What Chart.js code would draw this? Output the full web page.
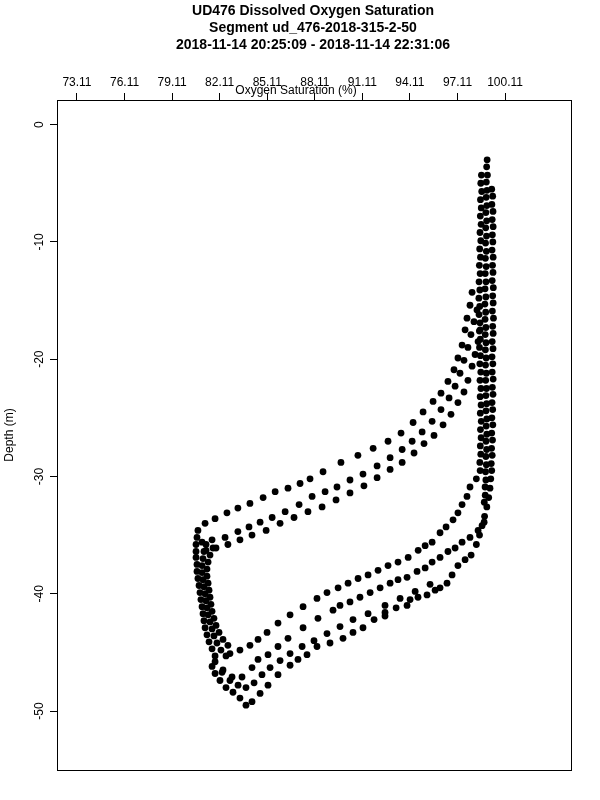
<!DOCTYPE html>
<html>
<head>
<meta charset="utf-8">
<script src="https://cdn.jsdelivr.net/npm/chart.js@4.4.1/dist/chart.umd.min.js"></script>
<style>
  html, body { margin: 0; padding: 0; background: #fff; }
  canvas { display: block; }
</style>
</head>
<body>
<canvas id="perfil" width="600" height="800"></canvas>
<script>
const titleLines = [
  'UD476 Dissolved Oxygen Saturation',
  'Segment ud_476-2018-315-2-50',
  '2018-11-14 20:25:09 - 2018-11-14 22:31:06'
];
const xTitle = 'Oxygen Saturation (%)';
const yTitle = 'Depth (m)';
const xTicks = [73.11, 76.11, 79.11, 82.11, 85.11, 88.11, 91.11, 94.11, 97.11, 100.11];
const yTicks = [0, -10, -20, -30, -40, -50];
const xMin = 71.85, xMax = 104.27;
const yMin = -55.03, yMax = 2.1;

// right band (well mixed layer), three columns
const bandOuterO2 = [99.27,99.33,99.28,99.35,99.30,99.36,99.31,99.34,99.29,99.36,99.32,99.35,99.30,99.37,99.33,99.36,99.31,99.38,99.33,99.36,99.30,99.35,99.29,99.34,99.30,99.36,99.31,99.35,99.29,99.33,99.28,99.34,99.27,99.32,99.26,99.30,99.24,99.27,99.21,99.16,99.08,98.96,98.82,98.66,98.50,98.30];
const bandOuterDepth = [-5.5,-6.1,-6.8,-7.4,-8.1,-8.7,-9.4,-10.0,-10.7,-11.3,-12.0,-12.6,-13.3,-13.9,-14.6,-15.2,-15.9,-16.5,-17.2,-17.8,-18.5,-19.1,-19.8,-20.4,-21.1,-21.7,-22.4,-23.0,-23.7,-24.3,-25.0,-25.6,-26.3,-26.9,-27.6,-28.2,-28.9,-29.5,-30.2,-31.0,-31.8,-32.6,-33.4,-34.2,-35.0,-35.8];
const bandMidO2 = [98.98,98.95,99.00,98.93,98.97,98.92,98.96,98.90,98.95,98.89,98.94,98.88,98.93,98.87,98.92,98.86,98.91,98.85,98.90,98.84,98.89,98.85,98.90,98.86,98.91,98.87,98.92,98.88,98.93,98.89,98.94,98.90,98.95,98.91,98.96,98.92,98.96,98.91,98.95,98.90,98.93,98.88,98.90,98.85,98.86,98.80];
const bandMidDepth = [-3.0,-3.6,-4.3,-4.9,-5.6,-6.2,-6.9,-7.5,-8.2,-8.8,-9.5,-10.1,-10.8,-11.4,-12.1,-12.7,-13.4,-14.0,-14.7,-15.3,-16.0,-16.6,-17.3,-17.9,-18.6,-19.2,-19.9,-20.5,-21.2,-21.8,-22.5,-23.1,-23.8,-24.4,-25.1,-25.7,-26.4,-27.0,-27.7,-28.3,-29.0,-29.6,-30.3,-30.9,-31.6,-32.2];
const bandInnerO2 = [98.62,98.58,98.64,98.56,98.61,98.55,98.60,98.53,98.58,98.51,98.56,98.49,98.54,98.47,98.52,98.46,98.51,98.47,98.53,98.49,98.55,98.50,98.56,98.52,98.58,98.53,98.59,98.54,98.60,98.55,98.61,98.56,98.60,98.55,98.58,98.52,98.54,98.30];
const bandInnerDepth = [-4.3,-5.0,-5.7,-6.4,-7.1,-7.8,-8.5,-9.2,-9.9,-10.6,-11.3,-12.0,-12.7,-13.4,-14.1,-14.8,-15.5,-16.2,-16.9,-17.6,-18.3,-19.0,-19.7,-20.4,-21.1,-21.8,-22.5,-23.2,-23.9,-24.6,-25.3,-26.0,-26.7,-27.4,-28.1,-28.8,-29.5,-30.2];

// upper branch (rising casts)
const riseUpperO2 = [98.03,97.90,97.71,97.59,97.40,97.14,96.89,96.51,96.07,95.57,94.94,94.31,93.55,92.73,91.79,90.83,89.76,88.63,87.81,87.18,86.42,85.61,84.85,84.02,83.26,82.57,81.82,81.19,80.74];
const riseUpperDepth = [-14.3,-15.4,-16.5,-17.5,-18.8,-19.9,-20.9,-21.9,-22.9,-23.6,-24.5,-25.4,-26.3,-27.0,-27.6,-28.2,-28.8,-29.6,-30.2,-30.6,-31.0,-31.3,-31.8,-32.3,-32.7,-33.1,-33.6,-34.0,-34.6];
const riseMidO2 = [98.34,98.15,97.96,97.77,97.52,97.27,96.96,96.58,96.07,95.51,94.88,94.25,93.62,92.86,92.04,91.15,90.33,89.51,88.76,87.94,87.12,86.24,85.42,84.66,83.96,83.26,82.45,81.63,81.00];
const riseMidDepth = [-15.8,-16.8,-17.9,-19.0,-20.1,-21.2,-22.3,-23.3,-24.3,-25.3,-26.2,-27.0,-27.7,-28.4,-29.1,-29.8,-30.3,-30.9,-31.3,-31.7,-32.4,-33.0,-33.5,-33.9,-34.3,-34.7,-35.2,-35.4,-35.6];
const riseLowerO2 = [98.54,98.41,98.22,98.03,97.77,97.52,97.14,96.70,96.20,95.63,95.00,94.37,93.62,92.86,92.04,91.21,90.33,89.45,88.57,87.68,86.80,85.92,85.04,84.15,83.39,82.63,81.88,81.25];
const riseLowerDepth = [-17.5,-18.5,-19.6,-20.6,-21.8,-22.8,-23.7,-24.7,-25.6,-26.5,-27.2,-28.0,-28.8,-29.4,-30.1,-30.8,-31.4,-32.0,-32.6,-33.0,-33.5,-34.0,-34.6,-35.0,-35.4,-35.8,-36.1,-36.3];

// left band (minimum)
const leftEdgeO2 = [80.68,80.62,80.62,80.62,80.68,80.68,80.74,80.81,80.87,80.93,81.00,81.06,81.12,81.19,81.31,81.44,81.63,81.82];
const leftEdgeDepth = [-35.2,-35.8,-36.4,-36.9,-37.5,-38.1,-38.7,-39.3,-39.9,-40.5,-41.1,-41.7,-42.3,-42.9,-43.5,-44.1,-44.7,-45.3];
const leftMidO2 = [81.25,81.12,81.06,81.00,81.00,81.06,81.12,81.19,81.25,81.31,81.38,81.50,81.63,81.75,81.94,82.19,82.51];
const leftMidDepth = [-35.8,-36.4,-37.0,-37.6,-38.2,-38.8,-39.4,-40.0,-40.6,-41.2,-41.8,-42.4,-43.0,-43.6,-44.2,-44.8,-45.3];
const leftInnerO2 = [81.69,81.50,81.38,81.31,81.31,81.38,81.44,81.50,81.56,81.63,81.75,81.88,82.07,82.32,82.63];
const leftInnerDepth = [-36.1,-36.7,-37.3,-37.9,-38.5,-39.1,-39.7,-40.3,-40.9,-41.5,-42.1,-42.7,-43.3,-43.9,-44.4];

// lower branch (descending casts)
const dropTopO2 = [97.90,97.71,97.40,97.14,96.83,96.39,96.01,95.51,95.07,94.63,94.00,93.36,92.73,92.10,91.47,90.84,90.21,89.58,88.88,88.25,87.37,86.55,85.79,85.10,84.53,84.02,83.39,82.76];
const dropTopDepth = [-30.9,-31.7,-32.4,-33.1,-33.7,-34.3,-34.8,-35.6,-35.9,-36.3,-36.9,-37.3,-37.6,-38.0,-38.4,-38.7,-39.1,-39.5,-39.9,-40.4,-41.1,-41.8,-42.5,-43.3,-43.9,-44.4,-44.8,-45.1];
const dropSecondO2 = [98.79,98.41,97.90,97.40,96.96,96.51,96.01,95.51,95.07,94.56,93.93,93.36,92.86,92.23,91.60,90.96,90.33,89.70,89.26,88.31,87.37,86.42,85.79,85.16,84.53,84.15,83.52,82.89,82.32,81.82];
const dropSecondDepth = [-33.9,-34.6,-35.2,-35.6,-36.1,-36.4,-36.9,-37.3,-37.8,-38.1,-38.6,-38.8,-39.1,-39.5,-39.9,-40.3,-40.7,-41.0,-41.4,-42.1,-42.9,-43.8,-44.5,-45.2,-45.6,-46.3,-47.1,-47.1,-46.5,-45.8];
const dropThirdO2 = [95.38,94.44,93.49,92.54,91.47,90.52,89.70,88.88,88.06,87.31,86.55,85.92,85.29,84.78,84.28,83.77,83.27,82.76,82.26];
const dropThirdDepth = [-39.2,-39.8,-40.4,-41.0,-41.7,-42.2,-42.8,-43.4,-44.0,-44.5,-45.1,-45.7,-46.3,-46.9,-47.6,-48.0,-47.8,-47.4,-46.7];
const dropBottomO2 = [97.97,97.59,97.14,96.77,96.45,96.01,95.70,95.19,94.62,94.12,93.93,93.24,92.54,92.54,91.85,91.15,90.52,89.89,89.07,88.25,87.62,87.05,86.55,85.79,85.16,84.66,84.15,83.77,83.39,82.95,82.51,82.13,81.82,81.63];
const dropBottomDepth = [-36.7,-37.1,-37.6,-38.4,-39.1,-39.5,-39.7,-40.1,-40.3,-40.5,-41.0,-41.2,-41.6,-41.9,-42.2,-42.9,-43.3,-43.8,-44.2,-44.5,-45.2,-45.6,-46.1,-46.9,-47.8,-48.5,-49.2,-49.5,-48.9,-48.4,-48.0,-47.4,-46.8,-46.2];

const tracks = [
  [bandOuterO2, bandOuterDepth], [bandMidO2, bandMidDepth], [bandInnerO2, bandInnerDepth],
  [riseUpperO2, riseUpperDepth], [riseMidO2, riseMidDepth], [riseLowerO2, riseLowerDepth],
  [leftEdgeO2, leftEdgeDepth], [leftMidO2, leftMidDepth], [leftInnerO2, leftInnerDepth],
  [dropTopO2, dropTopDepth], [dropSecondO2, dropSecondDepth], [dropThirdO2, dropThirdDepth],
  [dropBottomO2, dropBottomDepth]
];

const FONT = '"Liberation Sans", Arial, Helvetica, sans-serif';

// R-like frame, titles and rotated y labels
const rFrame = {
  id: 'rFrame',
  afterDraw(chart) {
    const { ctx, chartArea: a, scales } = chart;
    ctx.save();
    ctx.strokeStyle = '#000';
    ctx.lineWidth = 1;
    ctx.strokeRect(a.left + 0.5, a.top + 0.5, a.width, a.height);
    ctx.fillStyle = '#000';
    ctx.textAlign = 'center';
    ctx.textBaseline = 'middle';
    ctx.font = 'bold 14px ' + FONT;
    titleLines.forEach((t, i) => ctx.fillText(t, 313, 11 + i * 17));
    ctx.font = '12px ' + FONT;
    ctx.fillText(xTitle, 296, 91);
    scales.y.ticks.forEach(t => {
      const py = scales.y.getPixelForValue(t.value);
      ctx.save();
      ctx.translate(40, py);
      ctx.rotate(-Math.PI / 2);
      ctx.fillText(String(t.value), 0, 0);
      ctx.restore();
    });
    ctx.save();
    ctx.translate(10, (a.top + a.bottom) / 2);
    ctx.rotate(-Math.PI / 2);
    ctx.fillText(yTitle, 0, 0);
    ctx.restore();
    ctx.restore();
  }
};

document.addEventListener("DOMContentLoaded", () => {
  const ctx = document.getElementById("perfil").getContext("2d");

  new Chart(ctx, {
    type: 'scatter',
    data: {
      datasets: tracks.map(([xs, ys]) => ({
        data: xs.map((x, i) => ({ x: x, y: ys[i] })),
        backgroundColor: '#000',
        borderWidth: 0,
        pointRadius: 3.4,
        pointHoverRadius: 3.4
      }))
    },
    options: {
      responsive: false,
      animation: false,
      devicePixelRatio: 1,
      layout: { padding: { left: 57, top: 68, right: 29, bottom: 30 } },
      plugins: {
        legend: { display: false },
        tooltip: { enabled: false },
        title: { display: false }
      },
      scales: {
        x: {
          type: 'linear',
          position: 'top',
          min: xMin,
          max: xMax,
          afterBuildTicks: (scale) => { scale.ticks = xTicks.map(v => ({ value: v })); },
          afterFit: (scale) => { scale.height = 32; },
          ticks: {
            color: '#000',
            font: { family: FONT, size: 12 },
            padding: 3,
            maxRotation: 0,
            autoSkip: false,
            callback: (v) => Number(v).toFixed(2)
          },
          grid: { drawOnChartArea: false, drawTicks: true, tickLength: 7, color: '#000', lineWidth: 1 },
          border: { display: false }
        },
        y: {
          type: 'linear',
          position: 'left',
          min: yMin,
          max: yMax,
          afterBuildTicks: (scale) => { scale.ticks = yTicks.map(v => ({ value: v })); },
          afterFit: (scale) => { scale.width = 0; },
          ticks: { display: false },
          grid: { drawOnChartArea: false, drawTicks: true, tickLength: 7, color: '#000', lineWidth: 1 },
          border: { display: false }
        }
      }
    },
    plugins: [rFrame]
  });
});
</script>
</body>
</html>
